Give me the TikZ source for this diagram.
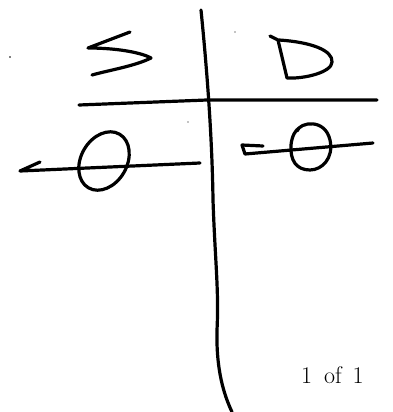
\documentclass[tikz,border=0pt]{standalone}
\usepackage{tikz}

\begin{document}
\begin{tikzpicture}[x=1pt, y=-1pt, line cap=round, line join=round]
        % ==== DEFINITIONS ====
        \def\pen{3.2pt} % stroke width of the marker
        \tikzset{ink/.style={line width=\pen, black}}
        \useasboundingbox (0,0) rectangle (392,412);

        % ==== VERTICAL LINE ====
        \draw[ink] (201,10) .. controls (206,60) and (212,130) .. (213,200)
            .. controls (215,260) and (219,290) .. (217,330)
            .. controls (216,370) and (224,395) .. (232,412);

        % ==== HORIZONTAL LINE ====
        \draw[ink] (79,105) -- (207,100) -- (377,100);

        % ==== LETTER S ====
        \draw[ink] (130,32) -- (88,48) .. controls (115,48) and (140,52) .. (151,58)
            .. controls (135,66) and (110,70) .. (92,75);

        % ==== LETTER D ====
        \draw[ink] (270,36) -- (278,40) -- (287,78)
            .. controls (305,79) and (332,72) .. (332,62)
            .. controls (333,50) and (310,42) .. (279,40);

        % ==== LEFT ZERO ====
        \draw[ink] (40,162) -- (20,171) -- (200,163);
        \draw[ink] (104,161) ellipse[x radius=31, y radius=23, rotate=60];

        % ==== RIGHT ZERO ====
        \draw[ink] (263,146) -- (242,145) -- (245,154) -- (373,143);
        \draw[ink] (297,131) .. controls (300,122) and (325,118) .. (330,140)
            .. controls (334,158) and (322,170) .. (310,170)
            .. controls (296,170) and (290,160) .. (291,145)
            .. controls (292,135) and (296,130) .. (299,128);

        % ==== SPECKS ====
        \fill (10,57) circle(0.9);
        \fill (235,32) circle(0.6);
        \fill (188,122) circle(0.6);

        % ==== PAGE NUMBER ====
        \node[anchor=base west, inner sep=0pt, font=\fontsize{24}{28}\selectfont] (page) at (301,383) {1\hspace{0.5em}of\hspace{0.45em}1};
    \end{tikzpicture}
\end{document}
